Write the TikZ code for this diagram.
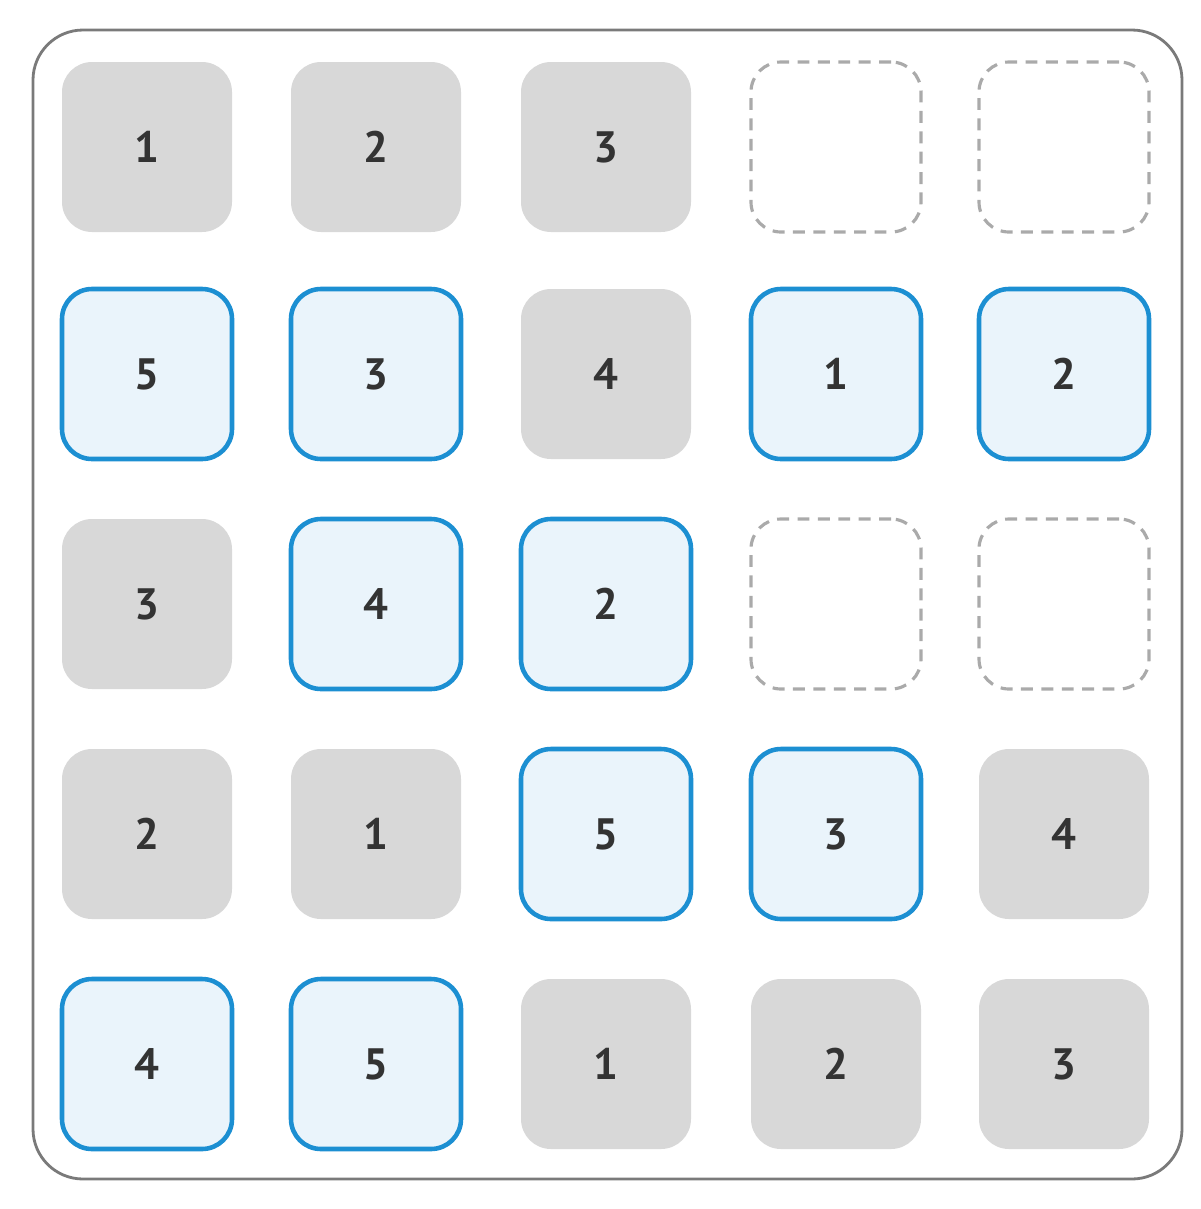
\documentclass[tikz,border=0pt]{standalone}
\usepackage{fontspec}
\setmainfont{PT Sans}
\definecolor{cellgray}{HTML}{D8D8D8}
\definecolor{cellblue}{HTML}{1C8FD2}
\definecolor{cellpale}{HTML}{EAF4FB}
\definecolor{framegray}{HTML}{7A7A7A}
\definecolor{dashgray}{HTML}{AAAAAA}
\definecolor{numtext}{HTML}{333333}
\begin{document}
\begin{tikzpicture}[
    cell/.style={minimum size=1.7cm, inner sep=0pt, rounded corners=0.3cm,
      font=\bfseries\fontsize{12.5}{14}\selectfont, text=numtext},
    given/.style={cell, fill=cellgray},
    placed/.style={cell, fill=cellpale, draw=cellblue, line width=1.3pt},
    empty/.style={cell, draw=dashgray, line width=0.9pt, dash pattern=on 3.4pt off 2.4pt}
  ]
    \useasboundingbox (0,0) rectangle (12,-12.09);
    \draw[framegray, line width=0.8pt, rounded corners=0.5cm] (0.33,-0.30) rectangle (11.82,-11.79);
    % row 1
    \node[given] (c11) at (1.47,-1.47) {1};
    \node[given] (c12) at (3.76,-1.47) {2};
    \node[given] (c13) at (6.06,-1.47) {3};
    \node[empty] (c14) at (8.36,-1.47) {};
    \node[empty] (c15) at (10.64,-1.47) {};
    % row 2
    \node[placed] (c21) at (1.47,-3.74) {5};
    \node[placed] (c22) at (3.76,-3.74) {3};
    \node[given] (c23) at (6.06,-3.74) {4};
    \node[placed] (c24) at (8.36,-3.74) {1};
    \node[placed] (c25) at (10.64,-3.74) {2};
    % row 3
    \node[given] (c31) at (1.47,-6.04) {3};
    \node[placed] (c32) at (3.76,-6.04) {4};
    \node[placed] (c33) at (6.06,-6.04) {2};
    \node[empty] (c34) at (8.36,-6.04) {};
    \node[empty] (c35) at (10.64,-6.04) {};
    % row 4
    \node[given] (c41) at (1.47,-8.34) {2};
    \node[given] (c42) at (3.76,-8.34) {1};
    \node[placed] (c43) at (6.06,-8.34) {5};
    \node[placed] (c44) at (8.36,-8.34) {3};
    \node[given] (c45) at (10.64,-8.34) {4};
    % row 5
    \node[placed] (c51) at (1.47,-10.64) {4};
    \node[placed] (c52) at (3.76,-10.64) {5};
    \node[given] (c53) at (6.06,-10.64) {1};
    \node[given] (c54) at (8.36,-10.64) {2};
    \node[given] (c55) at (10.64,-10.64) {3};
  \end{tikzpicture}
\end{document}
